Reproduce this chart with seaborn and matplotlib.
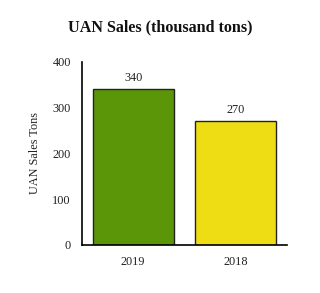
import matplotlib
matplotlib.use("Agg")
import matplotlib.pyplot as plt
import seaborn as sns
import pandas as pd

years = ["2019", "2018"]
sales = [340, 270]
colors = ["#5a9608", "#eedd14"]

sns.set_style("white")
plt.rcParams['font.family'] = ['Liberation Serif', 'DejaVu Serif']

fig = plt.figure(figsize=(3.2, 2.93), dpi=100)
ax = fig.add_axes([0.256, 0.164, 0.641, 0.625])
df = pd.DataFrame({"year": years, "sales": sales})
sns.barplot(data=df, x="year", y="sales", hue="year", palette=colors, legend=False,
            width=0.79, edgecolor="#222222", linewidth=1.0, saturation=1, ax=ax)
for i, v in enumerate(sales):
    ax.text(i, v + 12, str(v), ha="center", va="bottom", fontsize=8.8, color="#222222")
ax.set_ylim(0, 400)
ax.set_xlim(-0.5, 1.5)
ax.set_yticks([0, 100, 200, 300, 400])
ax.tick_params(axis="both", length=0, labelsize=8.8, colors="#222222", pad=8)
ax.set_xlabel("")
ax.set_ylabel("UAN Sales Tons", fontsize=8.8, color="#222222", labelpad=8)
for s in ["top", "right"]:
    ax.spines[s].set_visible(False)
for s in ["left", "bottom"]:
    ax.spines[s].set_color("black")
    ax.spines[s].set_linewidth(1.2)
fig.text(0.5, 0.908, "UAN Sales (thousand tons)", ha="center", va="center",
         fontsize=11.6, fontweight="bold", color="#111111")
fig.savefig("out.png", dpi=100)
